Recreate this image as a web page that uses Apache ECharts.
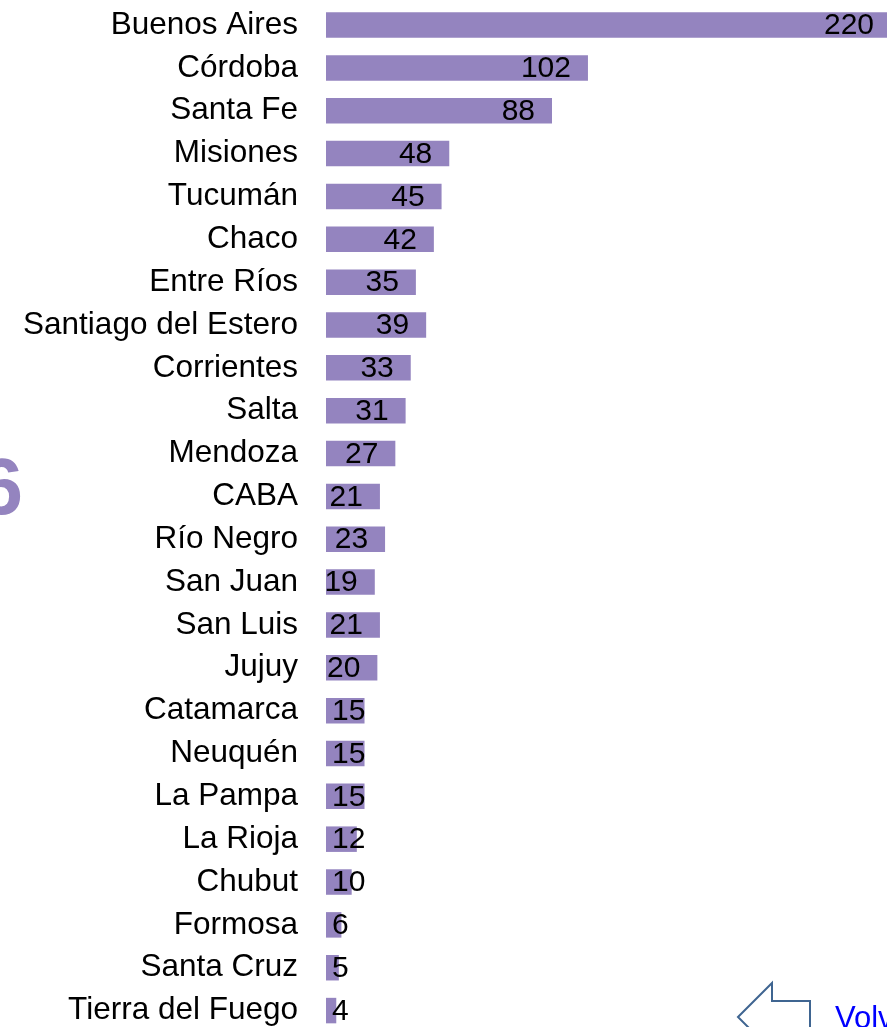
<!DOCTYPE html>
<html>
<head>
<meta charset="utf-8">
<script src="https://cdn.jsdelivr.net/npm/echarts@6/dist/echarts.min.js"></script>
<style>
  html, body { margin: 0; padding: 0; background: #fff; }
  #chart { width: 887px; height: 1027px; }
</style>
</head>
<body>
<div id="chart"></div>
<script>
var chartDom = document.getElementById('chart');
var chart = echarts.init(chartDom);

// provincias, de arriba hacia abajo
var provincias = ['Buenos Aires', 'Córdoba', 'Santa Fe', 'Misiones', 'Tucumán', 'Chaco',
  'Entre Ríos', 'Santiago del Estero', 'Corrientes', 'Salta', 'Mendoza', 'CABA',
  'Río Negro', 'San Juan', 'San Luis', 'Jujuy', 'Catamarca', 'Neuquén', 'La Pampa',
  'La Rioja', 'Chubut', 'Formosa', 'Santa Cruz', 'Tierra del Fuego'];
var valores = [220, 102, 88, 48, 45, 42, 35, 39, 33, 31, 27, 21, 23, 19, 21, 20, 15, 15, 15, 12, 10, 6, 5, 4];

var fuente = 'Liberation Sans, Arial, sans-serif';
var violeta = '#9484bf';

// etiquetas: dentro a la derecha si entran, si no pegadas al inicio
var datos = valores.map(function (v) {
  var chica = v < 19;
  return {
    value: v,
    label: {
      position: chica ? 'insideLeft' : 'insideRight',
      distance: chica ? 6 : 17
    }
  };
});

var option = {
  animation: false,
  grid: {
    left: 326,
    top: 3.6,
    width: 565,
    height: 1028.4,
    outerBoundsMode: 'none',
    containLabel: false
  },
  xAxis: {
    type: 'value',
    min: 0,
    max: 220,
    show: false
  },
  yAxis: {
    type: 'category',
    inverse: true,
    data: provincias,
    axisLine: { show: false },
    axisTick: { show: false },
    axisLabel: {
      margin: 28,
      color: '#000',
      fontSize: 31.5,
      fontFamily: fuente,
      showMinLabel: true,
      showMaxLabel: true
    }
  },
  series: [{
    type: 'bar',
    data: datos,
    barWidth: 25.5,
    itemStyle: { color: violeta },
    label: {
      show: true,
      color: '#000',
      fontSize: 30,
      fontFamily: fuente,
      offset: [0, 1]
    }
  }],
  graphic: [
    {
      type: 'text',
      x: 23,
      y: 452,
      silent: true,
      style: {
        text: '2016',
        fill: violeta,
        font: 'bold 80px ' + fuente,
        textAlign: 'right',
        textVerticalAlign: 'top'
      }
    },
    {
      type: 'polygon',
      shape: {
        points: [[738, 1017], [772, 983], [772, 1001], [810, 1001], [810, 1033], [772, 1033], [772, 1051]]
      },
      style: { fill: 'none', stroke: '#3f6591', lineWidth: 2 }
    },
    {
      type: 'text',
      x: 835,
      y: 1004,
      style: {
        text: 'Volver',
        fill: '#0000ff',
        font: '31px ' + fuente
      }
    }
  ]
};

chart.setOption(option);
</script>
</body>
</html>
